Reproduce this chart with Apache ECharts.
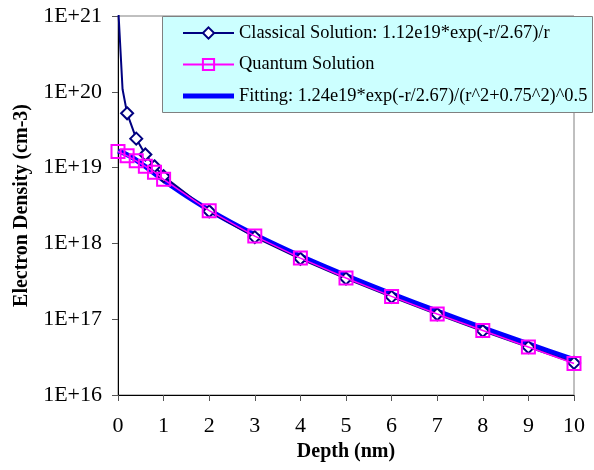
<!DOCTYPE html>
<html>
<head>
<meta charset="utf-8">
<script src="https://cdn.jsdelivr.net/npm/echarts@6/dist/echarts.min.js"></script>
<style>
  html, body { margin: 0; padding: 0; background: #fff; }
  #chart { width: 594px; height: 470px; }
</style>
</head>
<body>
<div id="chart"></div>
<script>
// depth (nm) and electron density (cm-3)
const classicalLeadDepth = [0.01, 0.1]
const classicalLeadDensity = [1.116e21, 1.08e20]
const classicalDepth = [0.2, 0.4, 0.6, 0.8, 1, 2, 3, 4, 5, 6, 7, 8, 9, 10]
const classicalDensity = [5.2e19, 2.41e19, 1.49e19, 1.04e19, 7.7e18, 2.65e18, 1.21e18, 6.26e17, 3.44e17, 1.97e17, 1.16e17, 7.0e16, 4.28e16, 2.65e16]
const quantumDepth = [0, 0.2, 0.4, 0.6, 0.8, 1, 2, 3, 4, 5, 6, 7, 8, 9, 10]
const quantumDensity = [1.63e19, 1.43e19, 1.23e19, 1.04e19, 8.7e18, 7.0e18, 2.7e18, 1.25e18, 6.4e17, 3.5e17, 2.0e17, 1.17e17, 7.1e16, 4.3e16, 2.6e16]
const fitDepth = [0, 0.1, 0.2, 0.3, 0.4, 0.5, 0.6, 0.8, 1, 1.25, 1.5, 2, 2.5, 3, 4, 5, 6, 7, 8, 9, 10]
const fitDensity = [1.653e19, 1.579e19, 1.482e19, 1.372e19, 1.256e19, 1.141e19, 1.031e19, 8.38e18, 6.82e18, 5.33e18, 4.22e18, 2.745e18, 1.863e18, 1.304e18, 6.81e17, 3.77e17, 2.168e17, 1.28e17, 7.71e16, 4.72e16, 2.92e16]
const seriesNames = [
  'Classical Solution: 1.12e19*exp(-r/2.67)/r',
  'Quantum Solution',
  'Fitting: 1.24e19*exp(-r/2.67)/(r^2+0.75^2)^0.5'
]

const pairs = (xs, ys) => xs.map((x, i) => [x, ys[i]])
const classicalData = classicalLeadDepth
  .map((x, i) => ({ value: [x, classicalLeadDensity[i]], symbol: 'none' }))
  .concat(pairs(classicalDepth, classicalDensity))

const serif = 'Liberation Serif, Times New Roman, serif'
const chart = echarts.init(document.getElementById('chart'))
const option = {
  animation: false,
  textStyle: { fontFamily: serif },
  grid: {
    left: 118, right: 20, top: 16, bottom: 75,
    show: true, borderColor: '#808080', borderWidth: 1
  },
  graphic: [{
    type: 'rect',
    left: 162, top: 16, z: 90,
    shape: { width: 430, height: 96 },
    style: { fill: '#ccffff', stroke: '#808080', lineWidth: 1 }
  }],
  legend: {
    orient: 'vertical',
    left: 177, top: 19, z: 100,
    itemWidth: 51, itemHeight: 14, itemGap: 13.5,
    textStyle: { fontFamily: serif, fontSize: 18.4, color: '#000' },
    data: [
      seriesNames[0],
      seriesNames[1],
      { name: seriesNames[2], icon: 'path://M0,0L51,0L51,5L0,5Z' }
    ]
  },
  xAxis: {
    type: 'value', min: 0, max: 10, interval: 1,
    name: 'Depth (nm)', nameLocation: 'middle', nameGap: 47,
    nameTextStyle: { fontFamily: serif, fontSize: 20, fontWeight: 'bold', color: '#000' },
    axisLine: { lineStyle: { color: '#000', width: 1 } },
    axisTick: { length: 6, lineStyle: { color: '#555' } },
    axisLabel: { fontFamily: serif, fontSize: 22, color: '#000', margin: 20 },
    splitLine: { show: false }
  },
  yAxis: {
    type: 'log', logBase: 10, min: 1e16, max: 1e21,
    name: 'Electron Density (cm-3)', nameLocation: 'middle', nameGap: 86,
    nameTextStyle: { fontFamily: serif, fontSize: 20, fontWeight: 'bold', color: '#000' },
    axisLine: { show: true, lineStyle: { color: '#000', width: 1 } },
    axisTick: { show: true, length: 6, lineStyle: { color: '#555' } },
    axisLabel: {
      fontFamily: serif, fontSize: 22, color: '#000', margin: 16,
      formatter: v => '1E+' + Math.round(Math.log10(v))
    },
    splitLine: { show: false }
  },
  series: [
    {
      name: seriesNames[2],
      type: 'line',
      data: pairs(fitDepth, fitDensity),
      symbol: 'none',
      smooth: 0.3,
      z: 2,
      lineStyle: { color: '#0000ff', width: 5 },
      itemStyle: { color: '#0000ff' }
    },
    {
      name: seriesNames[0],
      type: 'line',
      data: classicalData,
      symbol: 'emptyDiamond',
      symbolSize: 12,
      z: 3,
      lineStyle: { color: '#000080', width: 2 },
      itemStyle: { color: '#000080', borderColor: '#000080', borderWidth: 2 }
    },
    {
      name: seriesNames[1],
      type: 'line',
      data: pairs(quantumDepth, quantumDensity),
      symbol: 'rect',
      symbolSize: 13,
      z: 4,
      lineStyle: { color: '#ff00ff', width: 1.5 },
      itemStyle: { color: 'rgba(255,255,255,0)', borderColor: '#ff00ff', borderWidth: 2 }
    }
  ]
}
chart.setOption(option)
</script>
</body>
</html>
